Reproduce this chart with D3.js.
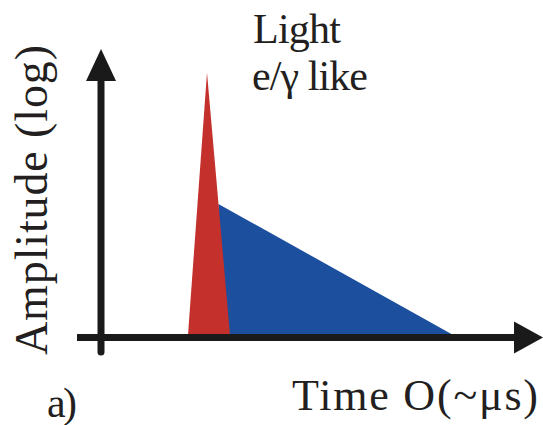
<!DOCTYPE html>
<html>
<head>
<meta charset="utf-8">
<script src="https://cdn.jsdelivr.net/npm/d3@7"></script>
<style>
  body { margin: 0; background: #fff; }
  svg { display: block; }
  .lbl { font-family: "Liberation Serif", "Times New Roman", "DejaVu Serif", serif; fill: #231f20; }
</style>
</head>
<body>
<div id="chart"></div>
<script>
// pulse shapes, time in arbitrary units, amplitude in arbitrary log units
var redTime = [22, 26.75, 32.5];
var redAmp  = [0, 92, 0];
var blueTime = [31, 29.6, 88.3];
var blueAmp  = [0, 46, 0];

var width = 543, height = 425;

var svg = d3.select("#chart")
  .append("svg")
  .attr("width", width)
  .attr("height", height);

var x = d3.scaleLinear().domain([0, 100]).range([100, 500]);
var y = d3.scaleLinear().domain([0, 100]).range([335, 50]);

var area = d3.line()
  .x(function(d){ return x(d[0]); })
  .y(function(d){ return y(d[1]); });

// heading cut off by the top edge, only descenders show
var head = svg.append("text")
  .attr("y", -8.5)
  .attr("font-family", "Liberation Sans, Arial, sans-serif")
  .attr("font-weight", "bold")
  .attr("font-size", 40)
  .attr("fill", "#000");
head.append("tspan").attr("x", 57).text("Timing");
head.append("tspan").attr("x", 246).text("(rise time)");

svg.append("path")
  .attr("d", area(d3.zip(blueTime, blueAmp)) + "Z")
  .attr("fill", "#1c4f9e");

svg.append("path")
  .attr("d", area(d3.zip(redTime, redAmp)) + "Z")
  .attr("fill", "#c4302b");

// axes with arrow heads
var axisColor = "#1a1a1a";
var x0 = x(0) + 1, yb = y(0) + 2.5;

svg.append("line")
  .attr("x1", 77).attr("x2", 520)
  .attr("y1", yb).attr("y2", yb)
  .attr("stroke", axisColor).attr("stroke-width", 7);

svg.append("line")
  .attr("x1", x0).attr("x2", x0)
  .attr("y1", 352).attr("y2", 75)
  .attr("stroke", axisColor).attr("stroke-width", 7)
  .attr("stroke-linecap", "round");

svg.append("polygon")
  .attr("points", [[x0 - 15, 81], [x0, 49], [x0 + 15, 81]].map(function(p){ return p.join(","); }).join(" "))
  .attr("fill", axisColor);

svg.append("polygon")
  .attr("points", [[514, yb - 16], [543, yb], [514, yb + 16]].map(function(p){ return p.join(","); }).join(" "))
  .attr("fill", axisColor);

// labels
svg.append("text").attr("class", "lbl")
  .attr("x", 253).attr("y", 43)
  .attr("font-size", 42)
  .attr("textLength", 88)
  .text("Light");

svg.append("text").attr("class", "lbl")
  .attr("x", 252).attr("y", 90)
  .attr("font-size", 42)
  .attr("textLength", 116)
  .text("e/\u03b3 like");

svg.append("text").attr("class", "lbl")
  .attr("x", 292).attr("y", 410)
  .attr("font-size", 44)
  .attr("textLength", 246)
  .text("Time O(~\u03bcs)");

svg.append("text").attr("class", "lbl")
  .attr("x", 47).attr("y", 417)
  .attr("font-size", 42)
  .attr("textLength", 30)
  .text("a)");

svg.append("text").attr("class", "lbl")
  .attr("transform", "translate(47,355) rotate(-90)")
  .attr("font-size", 46)
  .attr("textLength", 310)
  .text("Amplitude (log)");
</script>
</body>
</html>
